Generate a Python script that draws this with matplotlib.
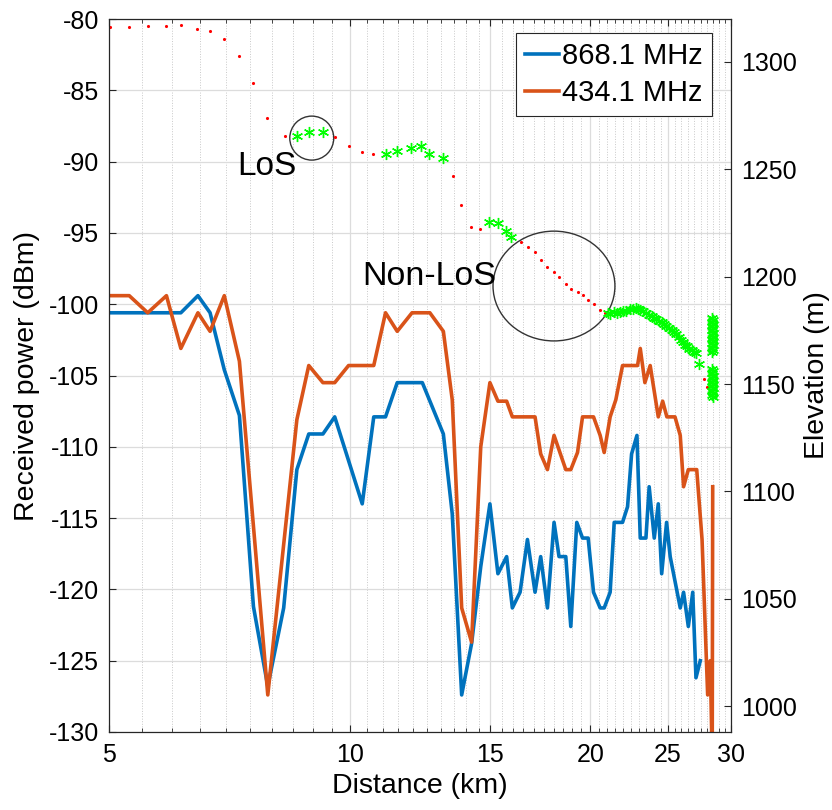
import numpy as np
import matplotlib.pyplot as plt
from matplotlib.patches import Ellipse
from matplotlib.ticker import FixedLocator, NullFormatter

plt.rcParams['font.family'] = ['Liberation Sans', 'DejaVu Sans']
plt.rcParams['axes.unicode_minus'] = False

# --- received power, 868.1 MHz ---
d_868 = [5.00, 6.15, 6.46, 6.69, 6.97, 7.28, 7.58, 7.90, 8.27, 8.59, 8.89, 9.26, 9.58,
         10.37, 10.72, 11.09, 11.47, 12.33, 13.10, 13.44, 13.81, 14.21, 14.59, 14.98,
         15.33, 15.72, 15.98, 16.34, 16.69, 17.06, 17.34, 17.68, 18.02, 18.28, 18.64,
         18.91, 19.24, 19.56, 19.88, 20.19, 20.58, 20.82, 21.18, 21.43, 21.95, 22.27,
         22.53, 22.88, 23.10, 23.48, 23.70, 24.05, 24.33, 24.57, 24.92, 25.18, 25.92,
         26.17, 26.53, 26.87, 27.12, 27.46]
p_868 = [-100.6, -100.6, -99.4, -100.6, -104.6, -107.8, -121.2, -126.8, -121.3, -111.6,
         -109.1, -109.1, -107.9, -114.0, -107.9, -107.9, -105.5, -105.5, -109.1, -114.7,
         -127.4, -123.8, -118.4, -114.0, -118.9, -117.7, -121.3, -120.2, -116.5, -120.2,
         -117.7, -121.3, -115.3, -117.7, -117.7, -122.6, -115.3, -116.4, -116.4, -120.2,
         -121.3, -121.3, -120.2, -115.3, -115.3, -114.2, -110.5, -109.2, -116.4, -116.4,
         -112.8, -116.4, -114.0, -118.9, -115.3, -117.7, -121.3, -120.2, -122.6, -120.2,
         -126.2, -125.0]

# --- received power, 434.1 MHz ---
d_434 = [5.00, 5.30, 5.59, 5.90, 6.15, 6.46, 6.69, 6.97, 7.28, 7.90, 8.59, 8.89, 9.26,
         9.58, 9.97, 10.72, 11.09, 11.47, 11.97, 12.60, 13.10, 13.44, 13.81, 14.21,
         14.59, 14.98, 15.33, 15.72, 15.98, 17.06, 17.34, 17.68, 18.02, 18.64, 18.91,
         19.28, 19.56, 20.19, 20.58, 20.82, 21.18, 21.53, 21.95, 22.92, 23.10, 23.41,
         23.77, 24.33, 24.64, 24.94, 25.53, 25.92, 26.17, 26.53, 27.18, 27.60, 28.05,
         28.26, 28.42, 28.46]
p_434 = [-99.4, -99.4, -100.6, -99.4, -103.1, -100.6, -101.9, -99.4, -104.0, -127.4,
         -108.1, -104.3, -105.5, -105.5, -104.3, -104.3, -100.6, -101.9, -100.6, -100.6,
         -101.9, -106.7, -121.3, -123.7, -110.0, -105.5, -106.8, -106.8, -107.9, -107.9,
         -110.5, -111.6, -109.2, -111.6, -111.6, -110.4, -107.9, -107.9, -109.2, -110.4,
         -107.9, -106.7, -104.3, -104.3, -103.1, -105.5, -104.3, -107.9, -106.8, -107.9,
         -107.9, -109.2, -112.8, -111.6, -111.6, -116.5, -127.4, -125.0, -132.0, -112.8]

# --- elevation profile: non line-of-sight points (red) ---
d_nlos = [5.01, 5.30, 5.59, 5.90, 6.15, 6.45, 6.68, 6.97, 7.28, 7.58, 7.89, 8.29, 9.58,
          9.97, 10.37, 10.70, 13.46, 13.79, 14.20, 14.54, 16.37, 16.72, 17.06, 17.34,
          17.68, 18.02, 18.28, 18.64, 18.91, 19.28, 19.56, 19.88, 20.19, 20.58, 20.86,
          27.77, 27.99]
h_nlos = [1316.2, 1316.2, 1316.6, 1316.6, 1317.1, 1315.5, 1314.6, 1310.9, 1302.9, 1290.1,
          1273.9, 1265.7, 1264.9, 1261.0, 1257.9, 1257.0, 1246.9, 1233.4, 1223.3, 1222.2,
          1216.0, 1213.9, 1211.6, 1207.7, 1204.3, 1202.3, 1200.0, 1196.4, 1194.5, 1193.0,
          1191.4, 1189.1, 1187.5, 1184.7, 1183.2, 1152.6, 1148.7]

# --- elevation profile: line-of-sight points (green) ---
d_los = [8.59, 8.89, 9.26, 11.09, 11.47, 11.94, 12.30, 12.56, 13.10, 14.94, 15.33, 15.67,
         15.94,
         21.02, 21.20, 21.40, 21.60, 21.80, 22.00, 22.20, 22.40, 22.60, 22.80, 22.95,
         23.10, 23.30, 23.50, 23.70, 23.90, 24.05, 24.20, 24.40, 24.60, 24.75, 24.90,
         25.10, 25.30, 25.47, 25.60, 25.80, 25.97, 26.15, 26.30, 26.45, 26.60, 26.80,
         26.95, 27.12, 27.38,
         28.42, 28.48, 28.42, 28.48, 28.42, 28.48, 28.42, 28.48, 28.42, 28.48, 28.42,
         28.48, 28.42, 28.48, 28.42, 28.48, 28.42,
         28.42, 28.48, 28.42, 28.48, 28.42, 28.48, 28.42, 28.48, 28.42, 28.48, 28.42,
         28.48, 28.42, 28.48]
h_los = [1265.7, 1267.2, 1267.2, 1257.1, 1258.5, 1259.8, 1260.9, 1257.1, 1255.1, 1225.6,
         1224.8, 1221.4, 1218.3,
         1182.9, 1182.6, 1183.4, 1183.0, 1183.8, 1184.2, 1183.9, 1184.8, 1185.0, 1185.4,
         1185.2, 1184.6, 1184.0, 1183.0, 1182.3, 1181.6, 1181.0, 1180.3, 1179.6, 1178.8,
         1178.0, 1177.2, 1176.2, 1175.1, 1174.1, 1173.2, 1171.8, 1170.6, 1169.6, 1168.3,
         1167.6, 1166.5, 1165.8, 1165.0, 1164.3, 1159.2,
         1181.0, 1180.0, 1179.0, 1178.0, 1177.0, 1176.0, 1175.0, 1174.0, 1173.0, 1172.0,
         1171.0, 1170.0, 1169.0, 1168.0, 1167.0, 1166.0, 1165.0,
         1157.0, 1156.0, 1155.0, 1154.0, 1153.0, 1152.0, 1151.0, 1150.0, 1149.0, 1148.0,
         1147.0, 1146.0, 1145.0, 1144.0]

x_ticks = [5, 10, 15, 20, 25, 30]
x_minor = [v for v in np.arange(5.5, 30, 0.5) if v not in x_ticks]
p_ticks = list(range(-130, -79, 5))
h_ticks = list(range(1000, 1301, 50))

fig = plt.figure(figsize=(8.32, 8.10), dpi=100)
ax = fig.add_axes([0.131, 0.0963, 0.7476, 0.8802])
ax2 = ax.twinx()

l1, = ax.plot(d_868, p_868, color='#0072BD', lw=2.6, label='868.1 MHz')
l2, = ax.plot(d_434, p_434, color='#D95319', lw=2.6, label='434.1 MHz')

ax2.plot(d_nlos, h_nlos, '.', color='red', ms=4.5, mew=0)
ax2.plot(d_los, h_los, marker=(6, 2, 0), ls='none', color='#00ff00', mec='#00ff00',
         ms=8, mew=1.0)

ax.set_xscale('log')
ax.set_xlim(5, 30)
ax.set_ylim(-130, -80)
ax2.set_ylim(988, 1320)

ax.xaxis.set_major_locator(FixedLocator(x_ticks))
ax.xaxis.set_minor_locator(FixedLocator(x_minor))
ax.xaxis.set_minor_formatter(NullFormatter())
ax.set_xticklabels([str(v) for v in x_ticks])
ax.set_yticks(p_ticks)
ax2.set_yticks(h_ticks)

ax.grid(which='major', axis='both', color='#dcdcdc', lw=0.9)
ax.grid(which='minor', axis='x', color='#c8c8c8', lw=0.7, ls=':')

ax.tick_params(which='both', direction='in', top=True, right=False, labelsize=18,
               color='#262626')
ax.tick_params(which='major', length=5)
ax.tick_params(which='minor', length=3)
ax.tick_params(axis='x', which='major', pad=8)
ax.tick_params(axis='y', which='major', pad=7)
ax2.tick_params(direction='in', length=5, labelsize=18, color='#262626', pad=7)
for sp in ax2.spines.values():
    sp.set_color('#262626')

ax.set_xlabel('Distance (km)', fontsize=20.5)
ax.set_ylabel('Received power (dBm)', fontsize=20.5)
ax2.set_ylabel('Elevation (m)', fontsize=20.5)
ax.xaxis.set_label_coords(0.5, -0.058)
ax.yaxis.set_label_coords(-0.111, 0.5)
ax2.yaxis.set_label_coords(1.117, 0.5)

ax2.add_patch(Ellipse((0.326, 0.833), 0.0707, 0.0617, transform=ax2.transAxes,
                      fill=False, ec='#333333', lw=1))
ax2.add_patch(Ellipse((0.7154, 0.6255), 0.196, 0.154, transform=ax2.transAxes,
                      fill=False, ec='#333333', lw=1))
ax2.text(0.207, 0.781, 'LoS', transform=ax2.transAxes, fontsize=24, va='baseline')
ax2.text(0.407, 0.627, 'Non-LoS', transform=ax2.transAxes, fontsize=24.5, va='baseline')

leg = ax2.legend(handles=[l1, l2], loc='upper right', bbox_to_anchor=(0.969, 0.980),
                 borderaxespad=0, fontsize=21, fancybox=False, framealpha=1,
                 edgecolor='#262626', handlelength=1.15, handletextpad=0.12,
                 borderpad=0.3, labelspacing=0.3)
leg.get_frame().set_linewidth(0.8)

fig.savefig('out.png', dpi=100)
